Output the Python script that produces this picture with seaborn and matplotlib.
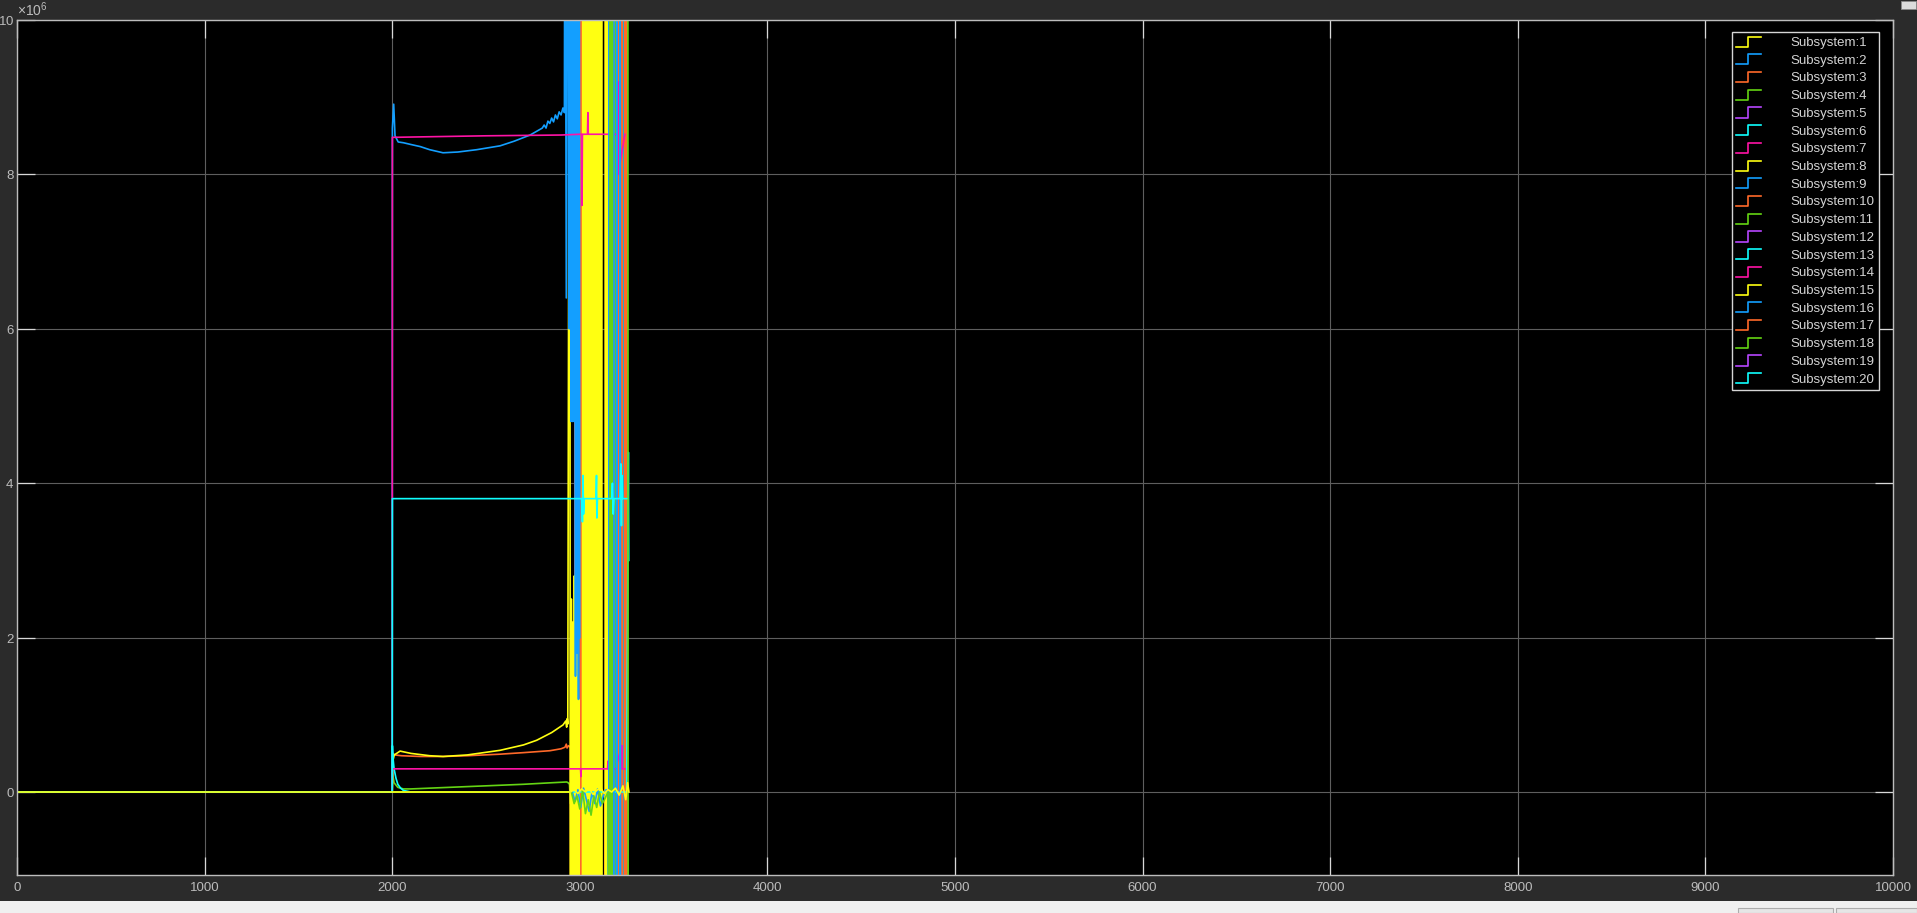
import numpy as np
import pandas as pd
import matplotlib
matplotlib.use("Agg")
import matplotlib.pyplot as plt
import seaborn as sns
from matplotlib.lines import Line2D
from matplotlib.patches import Rectangle
from matplotlib.legend_handler import HandlerBase
from matplotlib.ticker import ScalarFormatter

# ---------------- data (values in units of 1e6) ----------------
SCALE = 1e6
HI, LO = 14, -5   # off-scale excursions (clipped by the axes)

t_1 = [0, 2000, 2950, 2970, 2990, 3010, 3030, 3050, 3070, 3090, 3110, 3130, 3150, 3170, 3190, 3210, 3230, 3245, 3255, 3262]
v_1 = [0, 0, 0, 0.03, -0.02, 0.04, 0, 0.05, -0.03, 0.02, 0.06, -0.02, 0.03, 0, 0.05, -0.04, 0.08, -0.1, 0.12, 0]

t_2 = [0, 2000, 2001, 2008, 2015, 2032, 2060, 2095, 2150, 2200, 2271, 2350, 2450, 2575, 2650, 2735,
       2800, 2810, 2820, 2830, 2840, 2850, 2860, 2870, 2880, 2890, 2900, 2910, 2918, 2921, 2928, 2940,
       2944, 2948, 2953, 2957, 2961, 2965, 2969, 2973, 2977, 2981, 2985, 2989, 2993, 2997, 3000]
v_2 = [0, 0, 8.6, 8.91, 8.5, 8.42, 8.41, 8.39, 8.36, 8.32, 8.28, 8.29, 8.32, 8.37, 8.43, 8.51,
       8.6, 8.64, 8.6, 8.69, 8.66, 8.73, 8.68, 8.77, 8.72, 8.81, 8.77, 8.86, 8.8, HI, 6.4, HI,
       6.0, HI, 4.8, HI, 4.8, HI, 4.8, HI, 1.5, HI, 1.8, HI, 1.2, HI, 2.0]

t_3 = [0, 2000, 2003, 2015, 2050, 2150, 2271, 2400, 2575, 2700, 2841, 2900, 2921, 2928, 2932, 2940, 2950,
       2953, 2972, 2974, 2976, 3001, 3003, 3005, 3203, 3205, 3207, 3249, 3251, 3253]
v_3 = [0, 0, 0.5, 0.48, 0.47, 0.46, 0.46, 0.47, 0.49, 0.51, 0.535, 0.56, 0.58, 0.62, 0.57, 0.6, 0.58,
       LO, LO, 4.9, LO, LO, HI, LO, LO, HI, LO, LO, HI, LO]

t_4 = [0, 2000, 2002, 2010, 2030, 2060, 2100, 2300, 2500, 2700, 2850, 2930, 2938, 2945, 2950, 2960,
       2980, 3000, 3024, 3026, 3029, 3144, 3146, 3148, 3190, 3192, 3194]
v_4 = [0, 0, 0.25, 0.12, 0.06, 0.04, 0.04, 0.06, 0.08, 0.1, 0.12, 0.13, 0.12, 0.1, -0.15, 0.0,
       -0.1, 0.03, -0.05, HI, LO, LO, HI, LO, LO, HI, LO]

t_5 = [0, 3228, 3231, 3234, 3237]
v_5 = [0, 0, 0.95, LO, LO]

t_6 = [0, 2000, 2001, 2500, 3010, 3014, 3017, 3020, 3024, 3086, 3089, 3091, 3094, 3170, 3174, 3178,
       3182, 3215, 3219, 3222, 3225, 3228, 3250]
v_6 = [0, 0, 3.8, 3.8, 3.8, 3.5, 4.1, 3.6, 3.8, 3.8, 4.1, 3.55, 3.8, 3.8, 4.0, 3.6,
       3.8, 3.8, 4.25, 3.45, 4.1, 3.8, 3.8]

t_7 = [0, 2000, 2001, 2500, 2900, 3000, 3010, 3012, 3014, 3041, 3043, 3045, 3176, 3178, 3180, 3201, 3203, 3205, 3240]
v_7 = [0, 0, 8.48, 8.5, 8.51, 8.52, 8.52, 7.6, 8.52, 8.52, 8.8, 8.52, 8.52, 7.7, 8.52, 8.52, 9.2, 8.0, 8.52]

t_8 = [0, 2000, 2003, 2011, 2042, 2100, 2200, 2271, 2400, 2575, 2700, 2770, 2850, 2911, 2925, 2930, 2933, 2936,
       2946, 2950, 2955, 2959, 2963, 2967, 2971, 2975, 2979, 2983, 2987, 2991, 2995, 2999,
       3014, 3016, 3020, 3024, 3028, 3033, 3038, 3044, 3048, 3052, 3056, 3060, 3064, 3068, 3072, 3076, 3080, 3084]
v_8 = [0, 0, 0.4, 0.48, 0.53, 0.5, 0.47, 0.46, 0.48, 0.54, 0.61, 0.67, 0.77, 0.87, 0.92, 0.84, 0.95, 0.88,
       HI, LO, 2.5, LO, 2.2, LO, 2.8, LO, 1.5, LO, 2.0, LO, 1.2, LO,
       LO, HI, LO, HI, LO, HI, LO, HI, LO, HI, LO, HI, LO, HI, LO, HI, LO, HI]

t_9 = [0, 2960, 2975, 2990, 3005, 3020, 3035, 3050, 3065, 3080, 3095, 3110, 3125, 3140, 3150,
       3155, 3157, 3159, 3178, 3180, 3182, 3195, 3197, 3199, 3213, 3215, 3217]
v_9 = [0, 0, -0.12, 0.03, -0.2, 0.05, -0.1, -0.25, 0.0, -0.15, 0.04, -0.18, -0.05, 0.03, 0,
       LO, HI, LO, LO, HI, LO, LO, HI, LO, LO, HI, LO]

t_10 = [0, 3000, 3008, 3010, 3012, 3150, 3152, 3154, 3223, 3225, 3227, 3239, 3241, 3243]
v_10 = [0, 0, LO, HI, LO, LO, HI, LO, LO, HI, LO, LO, HI, LO]

t_11 = [0, 2955, 2970, 2985, 3000, 3015, 3030, 3045, 3060, 3075, 3090, 3105, 3120, 3135, 3150,
        3160, 3163, 3166, 3169, 3172, 3175, 3256, 3258, 3260]
v_11 = [0, 0, -0.15, -0.05, -0.22, 0.03, -0.28, -0.1, -0.3, -0.05, -0.2, 0.0, -0.15, -0.08, 0,
        LO, HI, LO, HI, LO, HI, HI, LO, LO]

t_12 = [0, 3218, 3220, 3222, 3224]
v_12 = [0, 0, HI, LO, LO]

t_13 = [0, 2000, 2001, 2004, 2010, 2020, 2030, 2045, 2060, 2080, 2100, 3250, 3259, 3261]
v_13 = [0, 0, 0.6, 0.45, 0.3, 0.18, 0.1, 0.05, 0.02, 0.01, 0, 0, 4.4, 3.0]

t_14 = [0, 2000, 2001, 3004, 3006, 3008, 3148, 3150, 3152, 3196, 3198, 3200, 3223, 3225, 3227, 3240]
v_14 = [0, 0, 0.30, 0.30, 0.2, 0.30, 0.30, 0.4, 0.30, 0.30, 0.1, 0.5, 0.30, 0.6, 0.30, 0.30]

t_15 = [0, 2990, 2992, 3081, 3084, 3088, 3092, 3096, 3100, 3104, 3108, 3112, 3116, 3119,
        3135, 3137, 3140, 3144, 3147]
v_15 = [0, 0, LO, LO, HI, LO, HI, LO, HI, LO, HI, LO, HI, LO,
        LO, HI, LO, HI, LO]

t_16 = [0, 3168, 3170, 3172, 3200, 3202, 3236, 3238, 3240]
v_16 = [0, 0, LO, HI, HI, LO, LO, HI, LO]

t_17 = [0, 3134, 3136, 3138, 3140, 3158, 3160, 3162, 3183, 3185, 3187, 3242, 3244, 3246]
v_17 = [0, 0, LO, HI, LO, LO, HI, LO, LO, HI, LO, LO, HI, LO]

t_18 = [0, 3205, 3208, 3210, 3212, 3227, 3229, 3231, 3246, 3248, 3250]
v_18 = [0, 0, LO, HI, LO, LO, HI, LO, LO, HI, LO]

t_19 = [0, 3232, 3235, 3238]
v_19 = [0, 0, HI, HI]

t_20 = [0, 3250, 3253, 3256]
v_20 = [0, 0, HI, HI]

series_t = [t_1, t_2, t_3, t_4, t_5, t_6, t_7, t_8, t_9, t_10,
            t_11, t_12, t_13, t_14, t_15, t_16, t_17, t_18, t_19, t_20]
series_v = [v_1, v_2, v_3, v_4, v_5, v_6, v_7, v_8, v_9, v_10,
            v_11, v_12, v_13, v_14, v_15, v_16, v_17, v_18, v_19, v_20]
labels = [f"Subsystem:{i}" for i in range(1, 21)]

base_colors = ["#ffff11", "#139fff", "#ff6929", "#64d413", "#b746ff", "#0fffff", "#ff13a6"]
palette = {lab: base_colors[i % 7] for i, lab in enumerate(labels)}

# drawing order (first drawn = bottom)
draw_order = [19, 12, 5, 20, 18, 16, 17, 10, 4, 3, 8, 15, 2, 7, 13, 14, 9, 11, 6, 1]

x_ticks = list(range(0, 10001, 1000))
y_ticks = [0, 2e6, 4e6, 6e6, 8e6, 10e6]

rows = []
for lab, ts, vs in zip(labels, series_t, series_v):
    for t, v in zip(ts, vs):
        rows.append((lab, t, v * SCALE))
df = pd.DataFrame(rows, columns=["series", "t", "value"])

# ---------------- figure ----------------
plt.rcParams["font.family"] = ["Liberation Sans", "DejaVu Sans"]
plt.rcParams["mathtext.default"] = "regular"
plt.rcParams["path.simplify"] = False

W, H = 1917, 913
fig = plt.figure(figsize=(W / 100, H / 100), dpi=100, facecolor="#2b2b2b")
ax = fig.add_axes([17 / W, (H - 875) / H, 1876 / W, 855 / H])
ax.set_facecolor("black")

sns.lineplot(data=df, x="t", y="value", hue="series",
             hue_order=[f"Subsystem:{i}" for i in draw_order],
             palette=palette, estimator=None, sort=False, legend=False,
             linewidth=1.2, ax=ax)

ax.set_xlim(0, 10000)
ax.set_ylim(-1.075e6, 10e6)
ax.set_xticks(x_ticks)
ax.set_yticks(y_ticks)
ax.set_xlabel("")
ax.set_ylabel("")

fmt = ScalarFormatter(useMathText=True)
fmt.set_powerlimits((6, 6))
ax.yaxis.set_major_formatter(fmt)
xfmt = ScalarFormatter(useOffset=False)
xfmt.set_scientific(False)
ax.xaxis.set_major_formatter(xfmt)

ax.set_axisbelow(True)
ax.grid(True, color="#5e5e5e", linewidth=0.8)
for s in ax.spines.values():
    s.set_color("#bdbdbd")
    s.set_linewidth(1.0)
ax.tick_params(axis="both", direction="in", length=13, width=0.9, color="#d8d8d8",
               labelcolor="#bcbcbc", labelsize=9.5, top=True, right=True)
ax.tick_params(axis="x", pad=5)
ax.tick_params(axis="y", pad=1.8)
ax.yaxis.get_offset_text().set_color("#bcbcbc")
ax.yaxis.get_offset_text().set_fontsize(10)


class StepHandler(HandlerBase):
    def create_artists(self, legend, orig_handle, xdescent, ydescent, width, height, fontsize, trans):
        x0, y0 = -xdescent, -ydescent
        xm = x0 + width * 0.47
        xs = [x0, xm, xm, x0 + width]
        ys = [y0 - height * 0.05, y0 - height * 0.05, y0 + height * 1.0, y0 + height * 1.0]
        ln = Line2D(xs, ys, color=orig_handle.get_color(), lw=1.2)
        ln.set_transform(trans)
        return [ln]


handles = [Line2D([], [], color=palette[lab]) for lab in labels]
leg = ax.legend(handles, labels, loc="upper right",
                bbox_to_anchor=(1 - 14 / 1876, 1 - 12 / 855), borderaxespad=0,
                frameon=True, fancybox=False, framealpha=1, facecolor="black",
                edgecolor="#d6d6d6", fontsize=9.5, labelcolor="#d4d4d4",
                handlelength=1.9, handleheight=0.75, handletextpad=2.2,
                labelspacing=0.40, borderpad=0.35,
                handler_map={Line2D: StepHandler()})
leg.get_frame().set_linewidth(1.0)

# window chrome: bottom status strip, buttons, top-right icon
fig.patches.append(Rectangle((0, 0), 1, 12 / H, transform=fig.transFigure,
                             facecolor="#f0f0f0", edgecolor="none", zorder=-1))
fig.patches.append(Rectangle((1738 / W, 0), 95 / W, 5 / H, transform=fig.transFigure,
                             facecolor="#e6e6e6", edgecolor="#adadad", lw=0.8))
fig.patches.append(Rectangle((1836 / W, 0), 81 / W, 5 / H, transform=fig.transFigure,
                             facecolor="#e6e6e6", edgecolor="#adadad", lw=0.8))
fig.patches.append(Rectangle((1901 / W, (H - 9) / H), 15 / W, 8 / H, transform=fig.transFigure,
                             facecolor="#dcdcdc", edgecolor="#8a8a8a", lw=0.6))

fig.savefig("out.png", dpi=100, facecolor=fig.get_facecolor())
